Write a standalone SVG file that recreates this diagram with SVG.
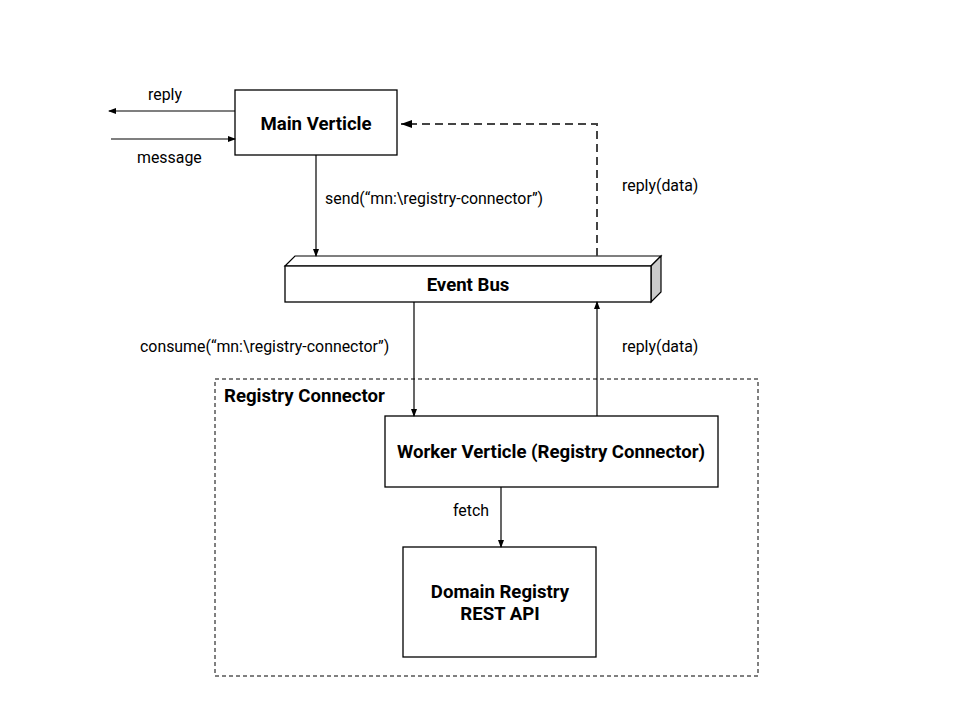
<svg xmlns="http://www.w3.org/2000/svg" width="960" height="720" viewBox="0 0 960 720">
<style>
text{font-family:Roboto,"Liberation Sans",sans-serif;fill:#000}
.lbl{font-size:15.9px}
.b{font-size:18.6px;font-weight:bold}
.box{fill:#fff;stroke:#000;stroke-width:1.3}
.c{fill:none;stroke:#000;stroke-width:1.2}
</style>
<defs>
<marker id="ah" markerWidth="8" markerHeight="8" refX="7" refY="4" orient="auto" markerUnits="userSpaceOnUse"><path d="M0,1 L8,4 L0,7 Z" fill="#000"/></marker>
<marker id="ah2" markerWidth="12" markerHeight="12" refX="11" refY="6" orient="auto" markerUnits="userSpaceOnUse"><path d="M0,2 L11,6 L0,10 Z" fill="#000"/></marker>
</defs>
<rect width="960" height="720" fill="#fff"/>
<g id="registry-connector-group">
<rect x="215" y="379" width="543" height="297" fill="none" stroke="#000" stroke-width="1" stroke-dasharray="4,3"/>
<text class="b" x="224" y="402">Registry Connector</text>
</g>
<g id="main-verticle">
<rect class="box" x="235" y="90" width="162" height="65"/>
<text class="b" x="316" y="130" text-anchor="middle">Main Verticle</text>
</g>
<g id="event-bus">
<path d="M285,266 L295,256 L661,256 L651,266 Z" fill="#fff" stroke="#000" stroke-width="1.2"/>
<path d="M651,266 L661,256 L661,292 L651,302 Z" fill="#ccc" stroke="#000" stroke-width="1.2"/>
<rect class="box" x="285" y="266" width="366" height="36"/>
<text class="b" x="468" y="291" text-anchor="middle">Event Bus</text>
</g>
<g id="worker-verticle">
<rect class="box" x="385" y="416" width="333" height="71"/>
<text class="b" x="551" y="458" text-anchor="middle">Worker Verticle (Registry Connector)</text>
</g>
<g id="domain-registry">
<rect class="box" x="403" y="547" width="193" height="110"/>
<text class="b" x="500" y="598" text-anchor="middle">Domain Registry</text>
<text class="b" x="500" y="620" text-anchor="middle">REST API</text>
</g>
<g id="connectors">
<line class="c" x1="235" y1="111" x2="109" y2="111" marker-end="url(#ah)"/>
<line class="c" x1="111" y1="139" x2="235" y2="139" marker-end="url(#ah)"/>
<line class="c" x1="316" y1="155" x2="316" y2="256" marker-end="url(#ah)"/>
<path d="M597,256 L597,124 L401,124" fill="none" stroke="#444" stroke-width="2" stroke-dasharray="8,5" marker-end="url(#ah2)"/>
<line class="c" x1="414" y1="302" x2="414" y2="416" marker-end="url(#ah)"/>
<line class="c" x1="597" y1="416" x2="597" y2="302" marker-end="url(#ah)"/>
<line class="c" x1="501" y1="487" x2="501" y2="547" marker-end="url(#ah)"/>
<text class="lbl" x="148" y="100">reply</text>
<text class="lbl" x="137" y="163">message</text>
<text class="lbl" x="325" y="204">send(“mn:\registry-connector”)</text>
<text class="lbl" x="622" y="191">reply(data)</text>
<text class="lbl" x="140" y="352">consume(“mn:\registry-connector”)</text>
<text class="lbl" x="622" y="352">reply(data)</text>
<text class="lbl" x="453" y="516">fetch</text>
</g>
</svg>
